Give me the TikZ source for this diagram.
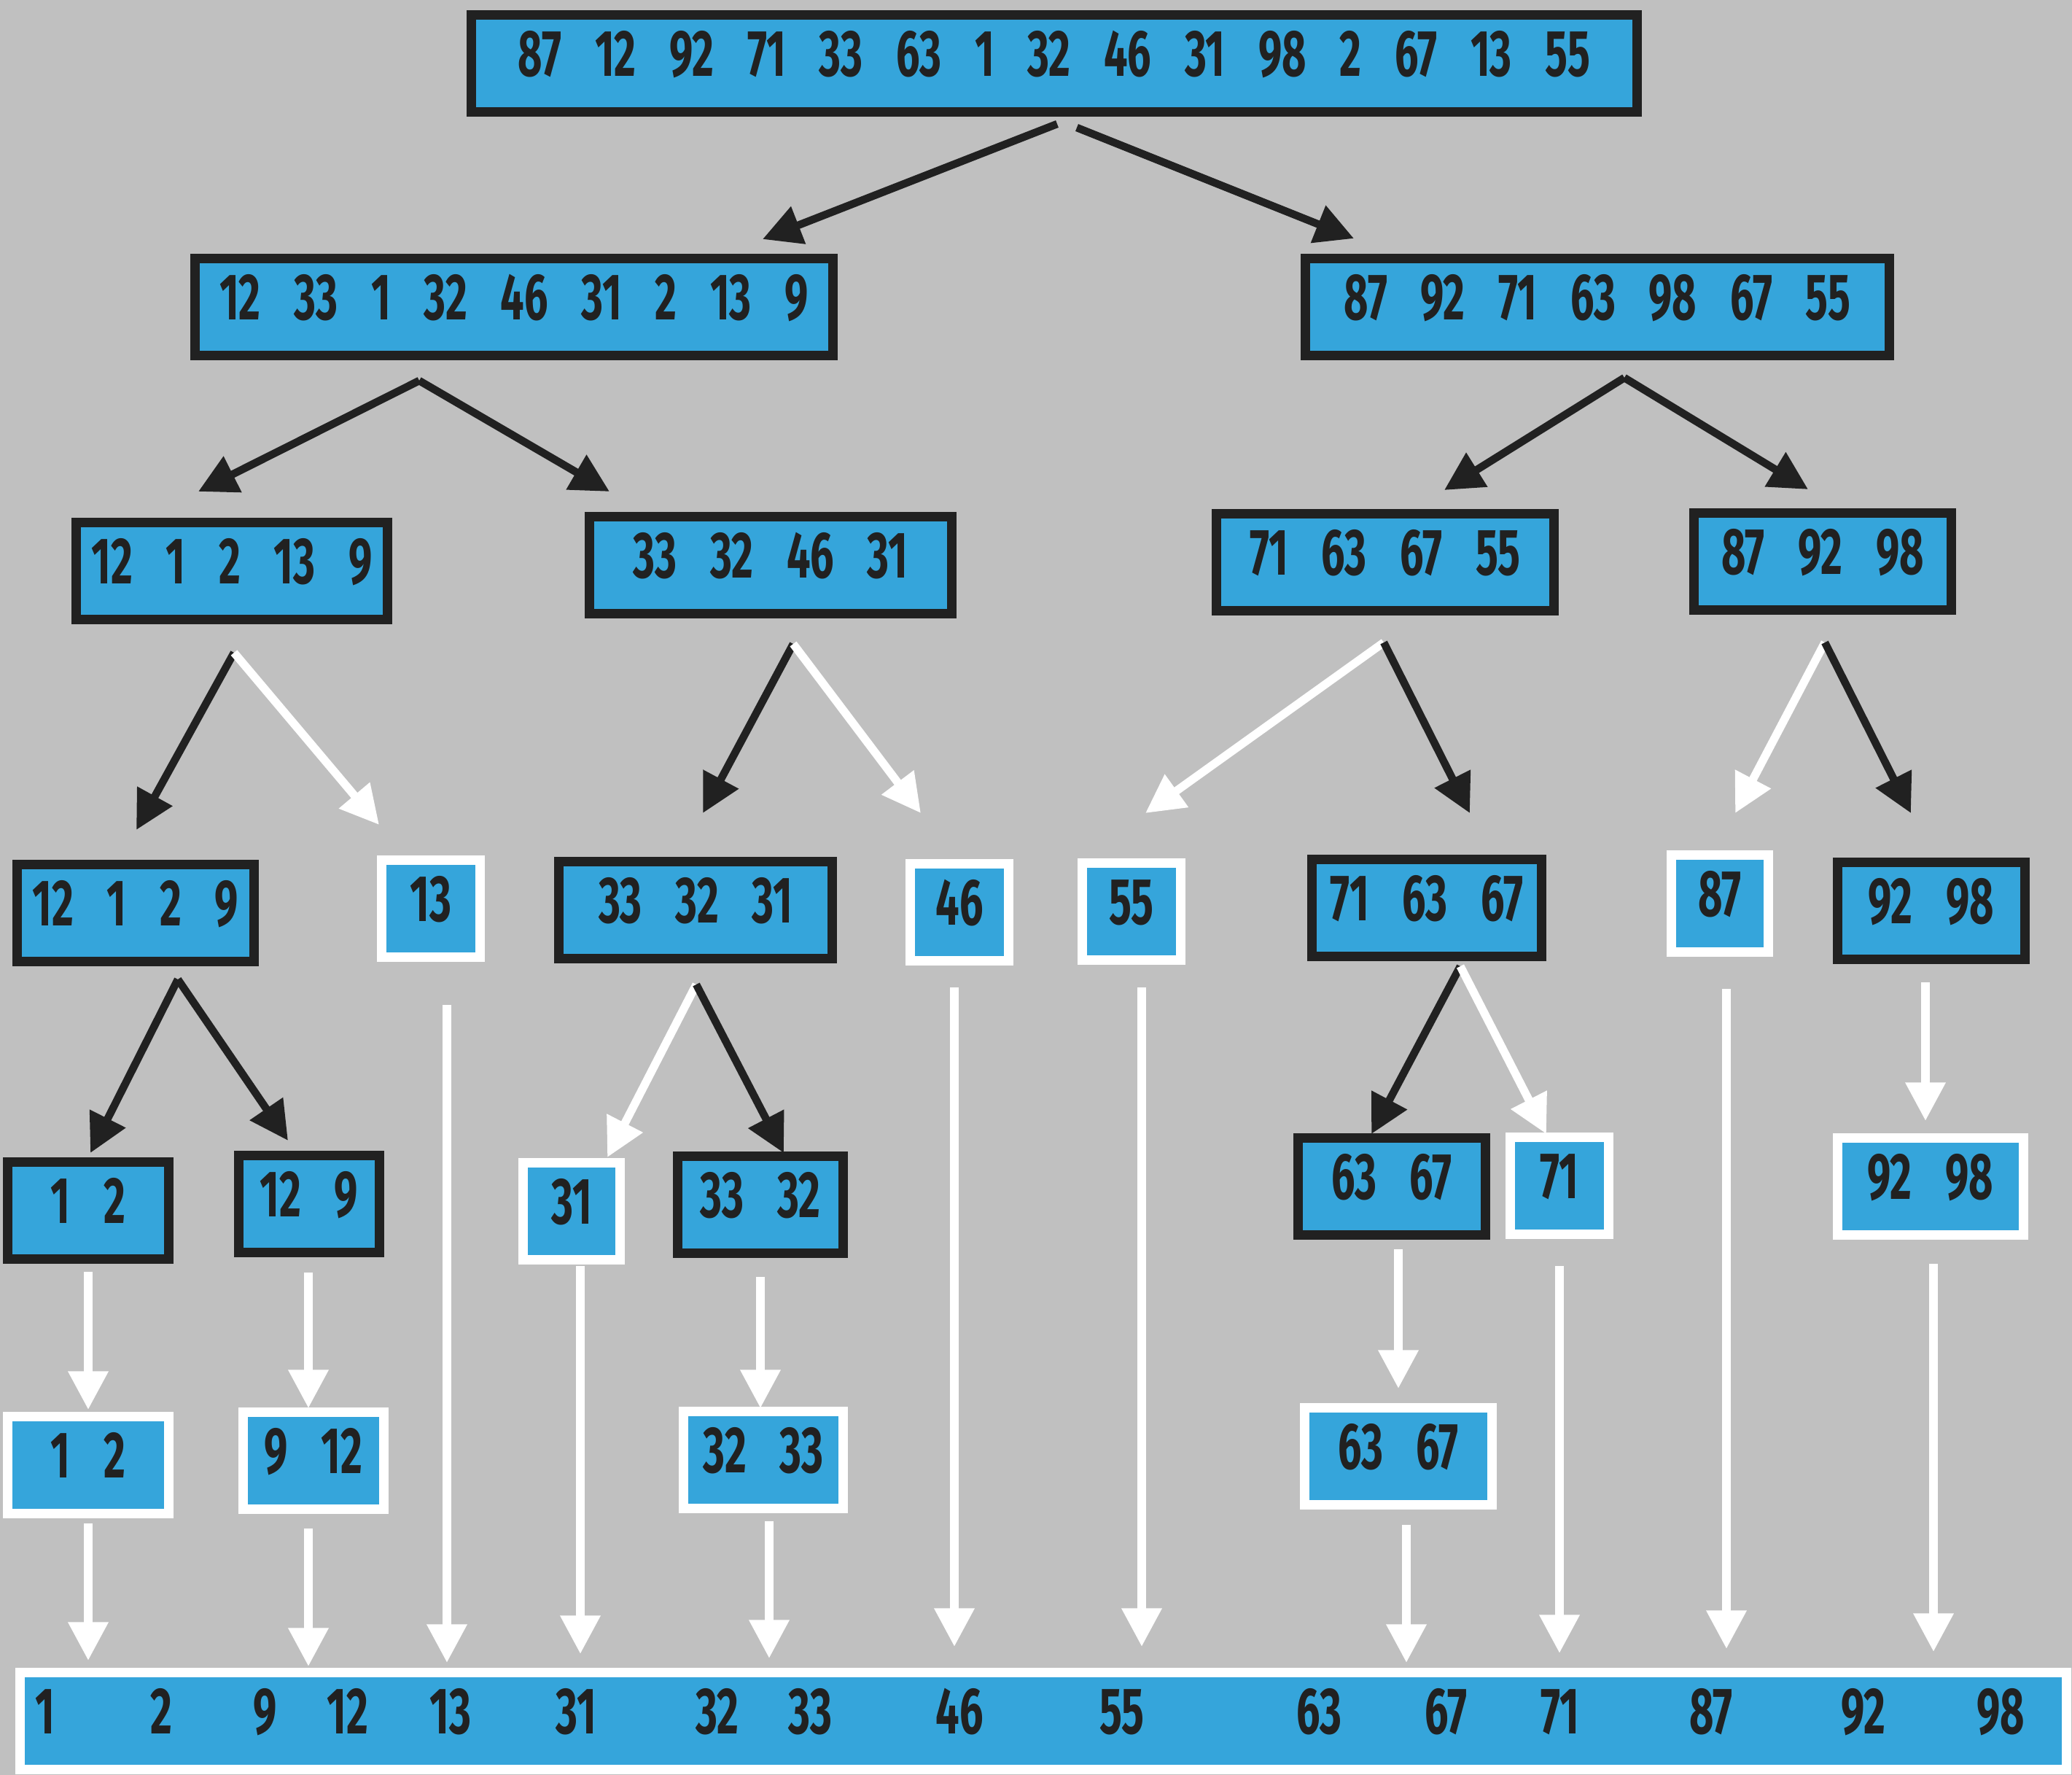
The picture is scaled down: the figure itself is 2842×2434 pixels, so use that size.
\documentclass[tikz,border=0pt]{standalone}
\usepackage{fontspec}
\newfontfamily\numfont{Fira Sans}[FakeStretch=0.64, WordSpace=3.35, Numbers=Proportional]
\usetikzlibrary{arrows.meta}

\definecolor{greybg}{HTML}{C0C0C0}
\definecolor{sky}{HTML}{35A5DB}
\definecolor{ink}{HTML}{212121}

\tikzset{
  num/.style={text=ink, inner sep=0pt, text height=24pt, text depth=13.8pt,
    font=\numfont\bfseries\fontsize{25.6}{30}\selectfont},
  box/.style={num, fill=sky, line width=3.7pt},
  blk/.style={box, draw=ink},
  wht/.style={box, draw=white},
  darr/.style={ink, line width=3pt, -{Triangle[length=15pt,width=15pt]}},
  warr/.style={white, line width=3.2pt, -{Triangle[length=15pt,width=15pt]}},
}

\begin{document}
\begin{tikzpicture}[x=0.01cm, y=-0.01cm]
\fill [greybg] (0,0) rectangle (2842,2434);
\useasboundingbox (0,0) rectangle (2842,2434);

% boxes
\node [blk, minimum width=15.99cm] (root) at (1446,87) {87 12 92 71 33 63 1 32 46 31 98 2 67 13 55};

\node [blk, minimum width=8.74cm] (L) at (705,421) {12 33 1 32 46 31 2 13 9};
\node [blk, minimum width=8.01cm] (Rr) at (2191,421) {87 92 71 63 98 67 55};

\node [blk, minimum width=4.26cm] (LL) at (318,783) {12 1 2 13 9};
\node [blk, minimum width=4.97cm] (LR) at (1057,775) {33 32 46 31};
\node [blk, minimum width=4.62cm] (RL) at (1900,771) {71 63 67 55};
\node [blk, minimum width=3.53cm] (RR) at (2500,770) {87 92 98};

\node [blk, minimum width=3.24cm] (a) at (186,1252) {12 1 2 9};
\node [wht, minimum width=1.34cm] (b) at (591,1246) {13};
\node [blk, minimum width=3.75cm] (c) at (954,1248) {33 32 31};
\node [wht, minimum width=1.34cm] (d) at (1316,1251) {46};
\node [wht, minimum width=1.34cm] (e) at (1552,1250) {55};
\node [blk, minimum width=3.14cm] (f) at (1957,1245) {71 63 67};
\node [wht, minimum width=1.32cm] (g) at (2359,1239) {87};
\node [blk, minimum width=2.56cm] (h) at (2649,1249) {92 98};

\node [blk, minimum width=2.21cm] (a1) at (121,1660) {1 2};
\node [blk, minimum width=1.92cm] (a2) at (424,1651) {12 9};
\node [wht, minimum width=1.32cm] (c1) at (784,1661) {31};
\node [blk, minimum width=2.27cm] (c2) at (1043,1652) {33 32};
\node [blk, minimum width=2.57cm] (f1) at (1909,1627) {63 67};
\node [wht, minimum width=1.34cm] (f2) at (2139,1626) {71};
\node [wht, minimum width=2.54cm] (h2) at (2648,1627) {92 98};

\node [wht, minimum width=2.21cm] (a1s) at (121,2009) {1 2};
\node [wht, minimum width=1.92cm] (a2s) at (430,2003) {9 12};
\node [wht, minimum width=2.19cm] (c2s) at (1047,2002) {32 33};
\node [wht, minimum width=2.57cm] (f1s) at (1918,1997) {63 67};

\node [wht, minimum width=28.05cm] (sorted) at (1431,2360) {};
\foreach \x/\v in {62/1, 221/2, 364/9, 477/12, 618/13, 790/31, 984/32, 1111/33,
                   1316/46, 1539/55, 1809/63, 1983/67, 2140/71, 2347/87, 2556/92, 2744/98}
  \node [num] (s\v) at (\x,2360) {\v};

% split points
\coordinate (root-l) at (1450,170);
\coordinate (root-r) at (1477,175);
\coordinate (L-in) at (1046,328);
\coordinate (Rr-in) at (1857,327);

\coordinate (L-out) at (575,522);
\coordinate (LL-in) at (272,674);
\coordinate (LR-in) at (836,674);
\coordinate (Rr-out) at (2228,518);
\coordinate (RL-in) at (1981,672);
\coordinate (RR-in) at (2480,671);

\coordinate (LL-out) at (321,895);
\coordinate (a-in) at (187,1138);
\coordinate (b-in) at (520,1131);
\coordinate (LR-out) at (1088,883);
\coordinate (c-in) at (964,1115);
\coordinate (d-in) at (1263,1115);
\coordinate (RL-out) at (1898,881);
\coordinate (e-in) at (1571,1115);
\coordinate (f-in) at (2016,1115);
\coordinate (RR-out) at (2503,881);
\coordinate (g-in) at (2380,1115);
\coordinate (h-in) at (2621,1115);

\coordinate (a-out) at (244,1343);
\coordinate (a1-in) at (124,1581);
\coordinate (a2-in) at (395,1564);
\coordinate (c-out) at (955,1350);
\coordinate (c1-in) at (833,1587);
\coordinate (c2-in) at (1075,1581);
\coordinate (f-out) at (2003,1325);
\coordinate (f1-in) at (1881,1555);
\coordinate (f2-in) at (2121,1555);

% straight drops
\coordinate (b-out) at (613,1378);    \coordinate (b-end) at (613,2280);
\coordinate (d-out) at (1309,1354);   \coordinate (d-end) at (1309,2258);
\coordinate (e-out) at (1566,1354);   \coordinate (e-end) at (1566,2258);
\coordinate (g-out) at (2368,1356);   \coordinate (g-end) at (2368,2261);
\coordinate (h-out) at (2641,1347);   \coordinate (h2-in) at (2641,1537);
\coordinate (a1-out) at (121,1744);   \coordinate (a1s-in) at (121,1933);
\coordinate (a2-out) at (423,1745);   \coordinate (a2s-in) at (423,1931);
\coordinate (c1-out) at (796,1736);   \coordinate (c1-end) at (796,2268);
\coordinate (c2-out) at (1043,1751);  \coordinate (c2s-in) at (1043,1931);
\coordinate (f1-out) at (1918,1713);  \coordinate (f1s-in) at (1918,1904);
\coordinate (f2-out) at (2139,1736);  \coordinate (f2-end) at (2139,2267);
\coordinate (h2-out) at (2652,1733);  \coordinate (h2-end) at (2652,2265);
\coordinate (a1s-out) at (121,2089);  \coordinate (a1s-end) at (121,2277);
\coordinate (a2s-out) at (423,2096);  \coordinate (a2s-end) at (423,2285);
\coordinate (c2s-out) at (1055,2086); \coordinate (c2s-end) at (1055,2274);
\coordinate (f1s-out) at (1929,2091); \coordinate (f1s-end) at (1929,2280);

% arrows
\draw [darr] (root-l) -- (L-in);
\draw [darr] (root-r) -- (Rr-in);
\draw [darr] (L-out) -- (LL-in);
\draw [darr] (L-out) -- (LR-in);
\draw [darr] (Rr-out) -- (RL-in);
\draw [darr] (Rr-out) -- (RR-in);

\draw [darr] (LL-out) -- (a-in);
\draw [warr] (LL-out) -- (b-in);
\draw [darr] (LR-out) -- (c-in);
\draw [warr] (LR-out) -- (d-in);
\draw [warr] (RL-out) -- (e-in);
\draw [darr] (RL-out) -- (f-in);
\draw [warr] (RR-out) -- (g-in);
\draw [darr] (RR-out) -- (h-in);

\draw [darr] (a-out) -- (a1-in);
\draw [darr] (a-out) -- (a2-in);
\draw [warr] (c-out) -- (c1-in);
\draw [darr] (c-out) -- (c2-in);
\draw [darr] (f-out) -- (f1-in);
\draw [warr] (f-out) -- (f2-in);

\draw [warr] (b-out) -- (b-end);
\draw [warr] (d-out) -- (d-end);
\draw [warr] (e-out) -- (e-end);
\draw [warr] (g-out) -- (g-end);
\draw [warr] (h-out) -- (h2-in);
\draw [warr] (a1-out) -- (a1s-in);
\draw [warr] (a2-out) -- (a2s-in);
\draw [warr] (c1-out) -- (c1-end);
\draw [warr] (c2-out) -- (c2s-in);
\draw [warr] (f1-out) -- (f1s-in);
\draw [warr] (f2-out) -- (f2-end);
\draw [warr] (h2-out) -- (h2-end);
\draw [warr] (a1s-out) -- (a1s-end);
\draw [warr] (a2s-out) -- (a2s-end);
\draw [warr] (c2s-out) -- (c2s-end);
\draw [warr] (f1s-out) -- (f1s-end);
\end{tikzpicture}
\end{document}
